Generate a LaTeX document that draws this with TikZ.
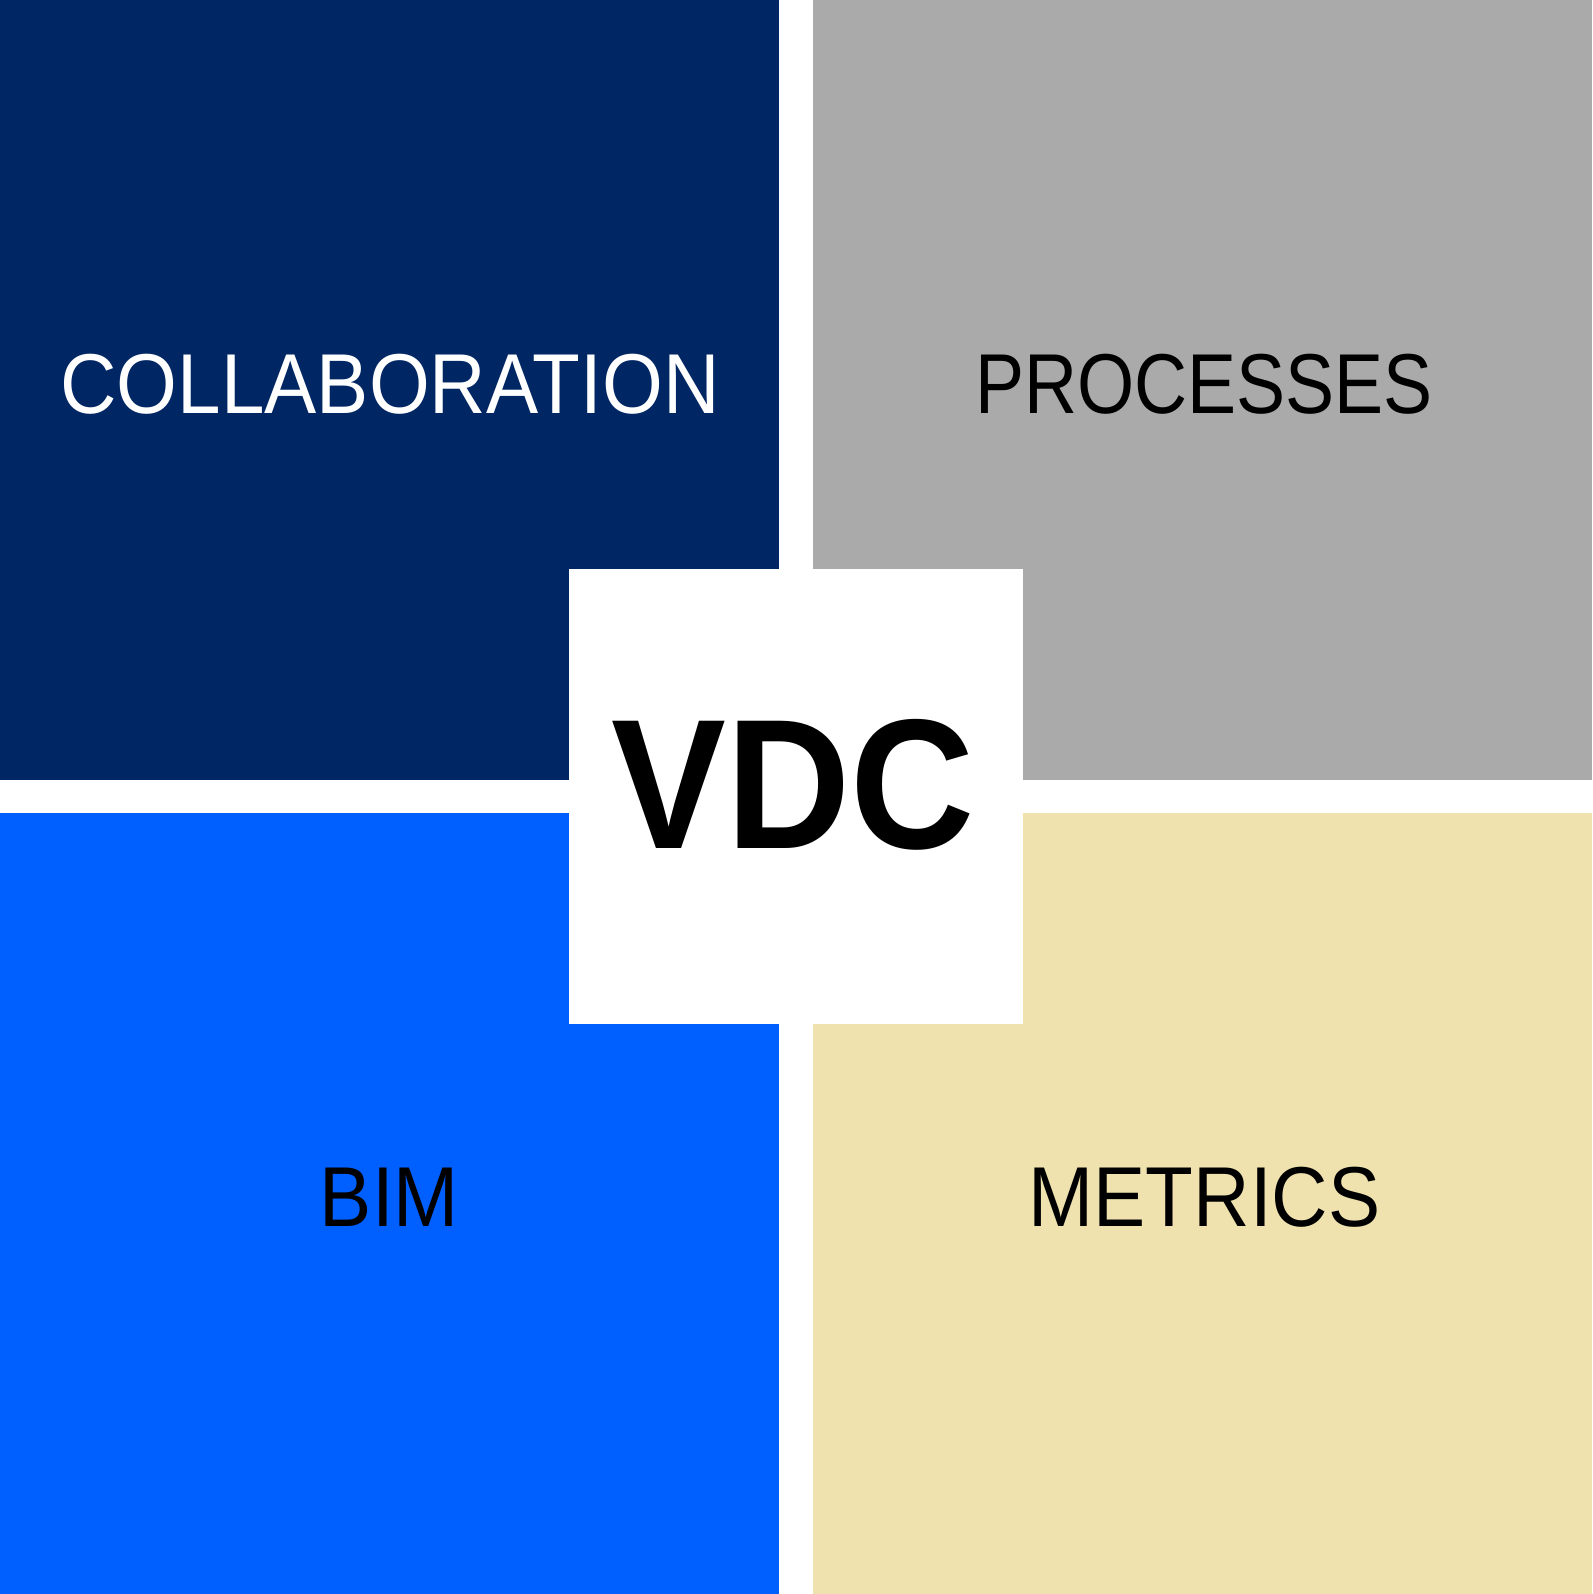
\documentclass[tikz,border=0pt]{standalone}
\usepackage{fontspec}
\setmainfont[FakeStretch=0.92]{Liberation Sans}
\newfontfamily\vdcfont[FakeStretch=0.93]{Liberation Sans}
\usetikzlibrary{calc}

\definecolor{navy}{RGB}{0,38,100}
\definecolor{greybox}{RGB}{170,170,170}
\definecolor{bluebox}{RGB}{0,96,255}
\definecolor{beige}{RGB}{239,226,174}

\tikzset{
  quad/.style={font=\fontsize{85}{92}\selectfont, inner sep=0pt},
}

\begin{document}
\begin{tikzpicture}[x=1pt,y=-1pt]
  \def\W{1592}
  \def\H{1594}
  \useasboundingbox (0,0) rectangle (\W,\H);

  % four quadrants
  \fill[navy] (0,0) rectangle (779,780);
  \fill[greybox] (813,0) rectangle (\W,780);
  \fill[bluebox] (0,813) rectangle (779,\H);
  \fill[beige] (813,813) rectangle (\W,\H);

  % centre square
  \fill[white] (569,569) rectangle (1023,1024);

  \node[quad, text=white] (collab) at (390,384) {COLLABORATION};
  \node[quad, xscale=0.94, transform shape] (proc) at (1204,384.5) {PROCESSES};
  \node[quad] (bim) at (389.5,1197.5) {BIM};
  \node[quad] (metrics) at (1204.5,1197.5) {METRICS};

  \node[inner sep=0pt, font=\vdcfont\bfseries\fontsize{185}{195}\selectfont] (vdc) at (793.5,785) {VDC};
\end{tikzpicture}
\end{document}
